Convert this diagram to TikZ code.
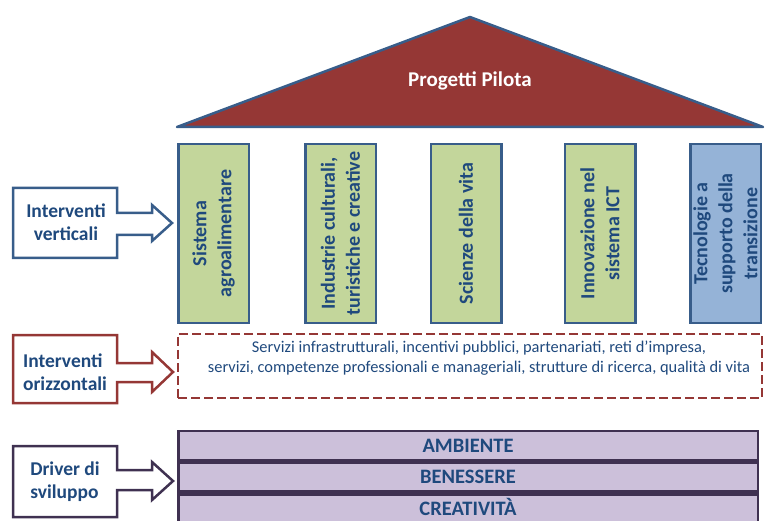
\documentclass[tikz,border=0pt]{standalone}
\usepackage{fontspec}
\setmainfont{Carlito}
\definecolor{roofred}{HTML}{953735}
\definecolor{edgeblue}{HTML}{385D8A}
\definecolor{pillargreen}{HTML}{C3D69B}
\definecolor{pillarblue}{HTML}{95B3D7}
\definecolor{textblue}{HTML}{1F497D}
\definecolor{driverpurple}{HTML}{3F3151}
\definecolor{barlilac}{HTML}{CCC0DA}
\begin{document}
\begin{tikzpicture}[x=1pt,y=-1pt,
  pillar/.style={draw=edgeblue, line width=2.5pt, fill=pillargreen, rotate=90,
    minimum width=178.5pt, minimum height=70.5pt, inner sep=0pt, align=center,
    text=textblue, font=\bfseries\fontsize{20}{25}\selectfont},
  callout/.style={line width=2.5pt, fill=white, line join=miter},
  label/.style={text=textblue, font=\bfseries\fontsize{19.5}{23}\selectfont},
  bartext/.style={text=textblue, inner sep=0pt, font=\bfseries\fontsize{20.5}{24}\selectfont},
  bar/.style={draw=driverpurple, line width=2.5pt, fill=barlilac,
    minimum width=579.5pt, minimum height=29pt, inner sep=0pt, bartext}]
  \useasboundingbox (0,0) rectangle (768,521);

  % tetto
  \draw[line width=2.5pt, draw=edgeblue, fill=roofred, line join=round]
    (177,127) -- (470,17) -- (763,127) -- cycle;
  \node[text=white, font=\bfseries\fontsize{21}{25}\selectfont] (pilota) at (470,81) {Progetti Pilota};

  % pilastri
  \node[pillar] (agro) at (213.5,233.5) {Sistema\\agroalimentare};
  \node[pillar] (industrie) at (340.5,233.5) {Industrie culturali,\\turistiche e creative};
  \node[pillar] (scienze) at (466,233.5) {Scienze della vita};
  \node[pillar] (ict) at (600,233.5) {Innovazione nel\\sistema ICT};
  \node[pillar, fill=pillarblue] (tecno) at (725.5,233.5) {Tecnologie a\\supporto della\\transizione};

  % interventi orizzontali
  \node[draw=roofred, line width=2.5pt, dash pattern=on 9pt off 4pt,
    minimum width=584pt, minimum height=64pt] (oriz) at (470,366) {};
  \node[text=textblue, align=center, font=\fontsize{16.4}{20}\selectfont] (servizi) at (479,358)
    {Servizi infrastrutturali, incentivi pubblici, partenariati, reti d'impresa,\\
     servizi, competenze professionali e manageriali, strutture di ricerca, qualità di vita};

  % driver
  \node[bar] (ambiente) at (468,445.5) {AMBIENTE};
  \node[bar] (benessere) at (468,477) {BENESSERE};
  \node[bar, minimum height=36pt] (creabar) at (468,512.5) {};
  \node[bartext] (creativita) at (468,507) {CREATIVITÀ};

  % frecce a sinistra
  \draw[callout, draw=edgeblue] (13,188) -- (117,188) -- (117,213) -- (152,213) -- (152,205)
    -- (172,223) -- (152,241) -- (152,235) -- (117,235) -- (117,258) -- (13,258) -- cycle;
  \node[label, align=center] (verticali) at (66,222) {Interventi\\verticali};

  \draw[callout, draw=roofred] (13,335) -- (117,335) -- (117,363) -- (152,363) -- (152,352)
    -- (173,372) -- (152,392) -- (152,382) -- (117,382) -- (117,403) -- (13,403) -- cycle;
  \node[label, align=left] (orizzontali) at (65,372) {Interventi\\orizzontali};

  \draw[callout, draw=driverpurple] (13,446) -- (117,446) -- (117,470) -- (152,470) -- (152,462)
    -- (173,481) -- (152,500) -- (152,490) -- (117,490) -- (117,517) -- (13,517) -- cycle;
  \node[label, align=left] (sviluppo) at (65,482) {Driver di\\sviluppo};
\end{tikzpicture}
\end{document}
